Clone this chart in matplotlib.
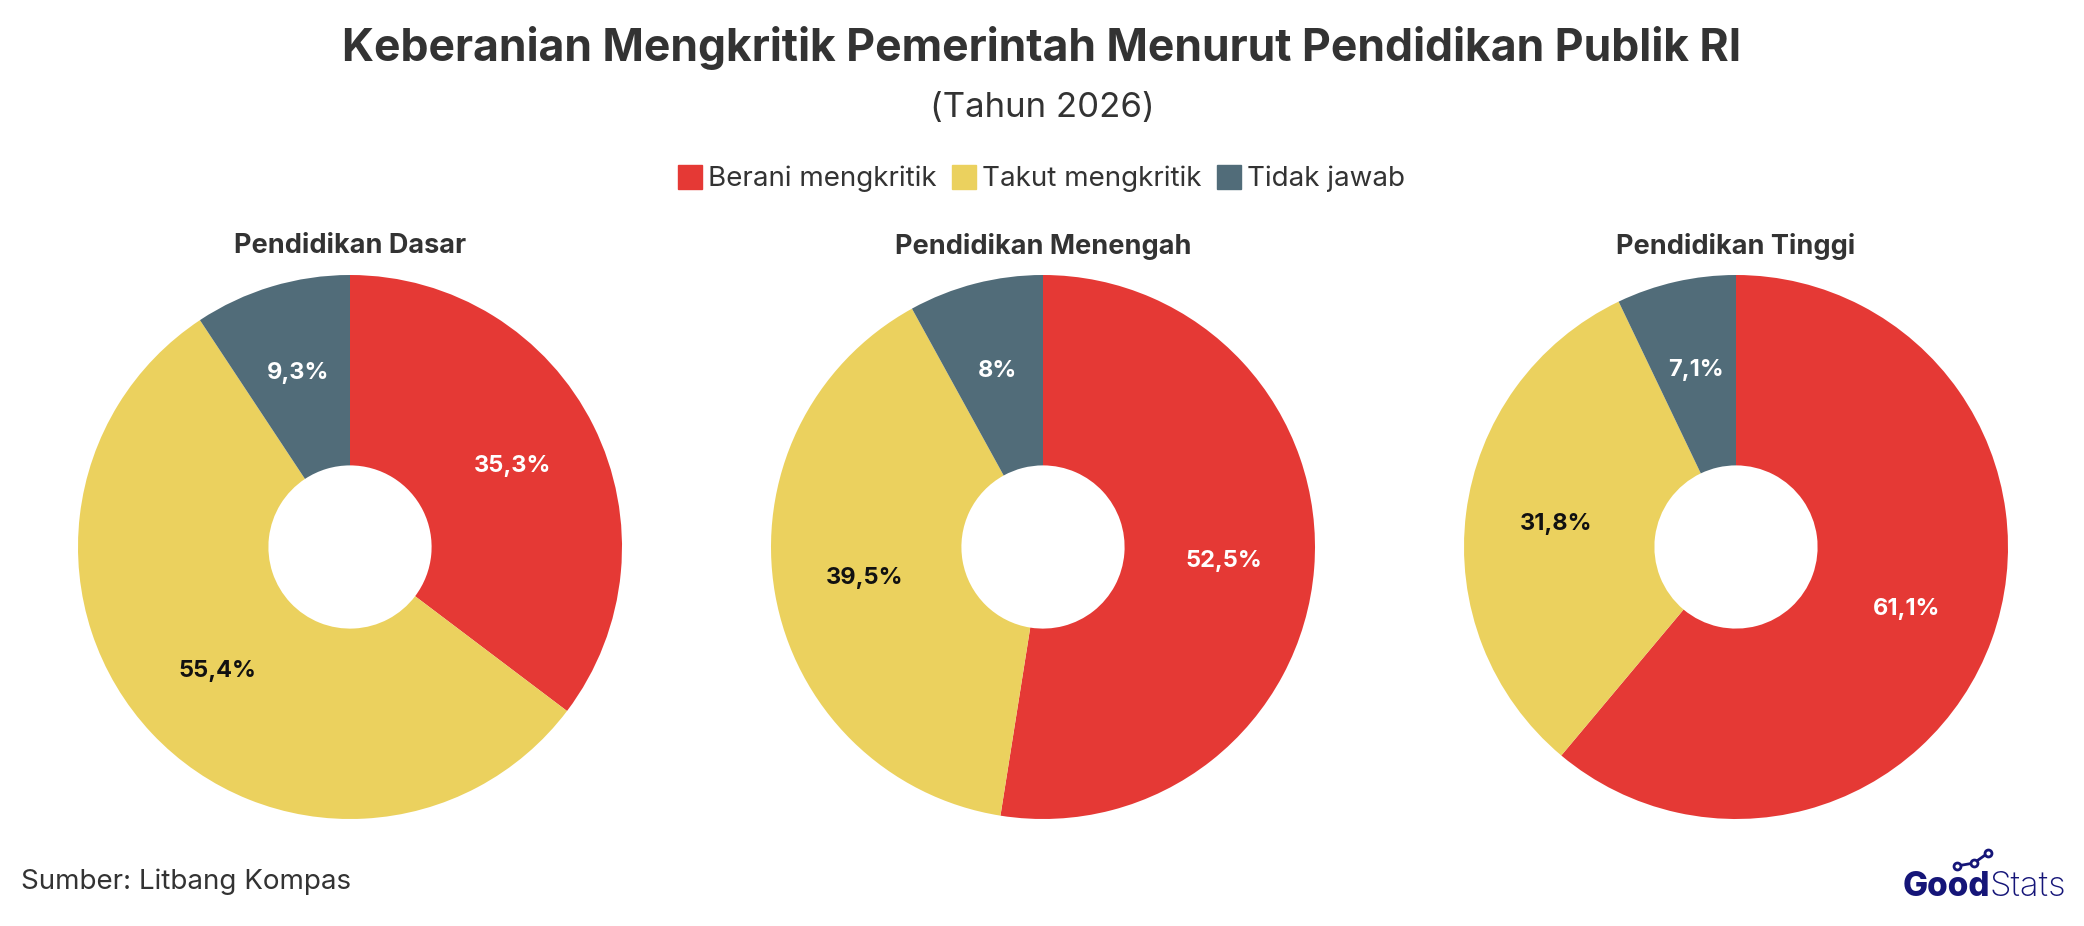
import matplotlib.pyplot as plt
from matplotlib.lines import Line2D

# Data
groups = ["Pendidikan Dasar", "Pendidikan Menengah", "Pendidikan Tinggi"]
categories = ["Berani mengkritik", "Takut mengkritik", "Tidak jawab"]
berani = [35.3, 52.5, 61.1]
takut = [55.4, 39.5, 31.8]
tidak = [9.3, 8.0, 7.1]

colors = ["#E53935", "#EBD15E", "#516C79"]
label_colors = ["white", "#111111", "white"]
text_color = "#333333"

W, H = 2084, 926
fig = plt.figure(figsize=(W / 100, H / 100), dpi=100)
fig.patch.set_facecolor("white")


def fmt(p):
    s = f"{p:.1f}".replace(".", ",")
    if s.endswith(",0"):
        s = s[:-2]
    return s + "%"


# Pie positions (pixel centers)
centers_x = [350, 1043, 1736]
center_y = 547
r = 272

for i, g in enumerate(groups):
    ax = fig.add_axes([(centers_x[i] - r) / W, (H - center_y - r) / H, 2 * r / W, 2 * r / H])
    vals = [berani[i], takut[i], tidak[i]]
    wedges, texts, autotexts = ax.pie(
        vals, colors=colors, startangle=90, counterclock=False,
        radius=1, wedgeprops=dict(width=0.70, edgecolor="none"),
        autopct=fmt, pctdistance=0.667,
    )
    for t, c in zip(autotexts, label_colors):
        t.set_color(c)
        t.set_fontsize(17)
        t.set_fontweight("bold")
        t.set_fontfamily("Inter")
    ax.set_xlim(-1, 1)
    ax.set_ylim(-1, 1)
    ax.set_aspect("equal")
    ax.axis("off")
    fig.text(centers_x[i] / W, 1 - 246 / H, g, ha="center", va="center",
             fontsize=19.5, fontweight="bold", color=text_color, family="Inter")

# Titles
fig.text(0.5, 1 - 48 / H, "Keberanian Mengkritik Pemerintah Menurut Pendidikan Publik RI",
         ha="center", va="center", fontsize=32, fontweight="bold", color=text_color, family="Inter")
fig.text(0.5, 1 - 108 / H, "(Tahun 2026)", ha="center", va="center",
         fontsize=25, color=text_color, family="Inter")

# Legend
handles = [Line2D([0], [0], marker="s", linestyle="none", markersize=17,
                  markerfacecolor=c, markeredgecolor=c) for c in colors]
leg = fig.legend(handles, categories, loc="center", bbox_to_anchor=(0.5, 1 - 179 / H),
                 ncol=3, frameon=False, handlelength=0.8, handletextpad=0.25,
                 columnspacing=0.6, prop={"family": "Inter", "size": 20})
for t in leg.get_texts():
    t.set_color(text_color)

# Source and logo
fig.text(21 / W, 1 - 882 / H, "Sumber: Litbang Kompas", ha="left", va="center",
         fontsize=20, color=text_color, family="Inter")
fig.text(1990 / W, 1 - 887 / H, "Good", ha="right", va="center", fontsize=24,
         fontweight="heavy", color="#151578", family="Inter")
fig.text(1990 / W, 1 - 887 / H, "Stats", ha="left", va="center", fontsize=25,
         fontweight="light", color="#151578", family="Inter")
fig.add_artist(Line2D([1957 / W, 1974 / W, 1988 / W], [1 - 866 / H, 1 - 863 / H, 1 - 853 / H],
                      color="#151578", lw=2, marker="o", markersize=5,
                      markerfacecolor="white", markeredgewidth=2))

fig.savefig("out.png", dpi=100, facecolor="white")
